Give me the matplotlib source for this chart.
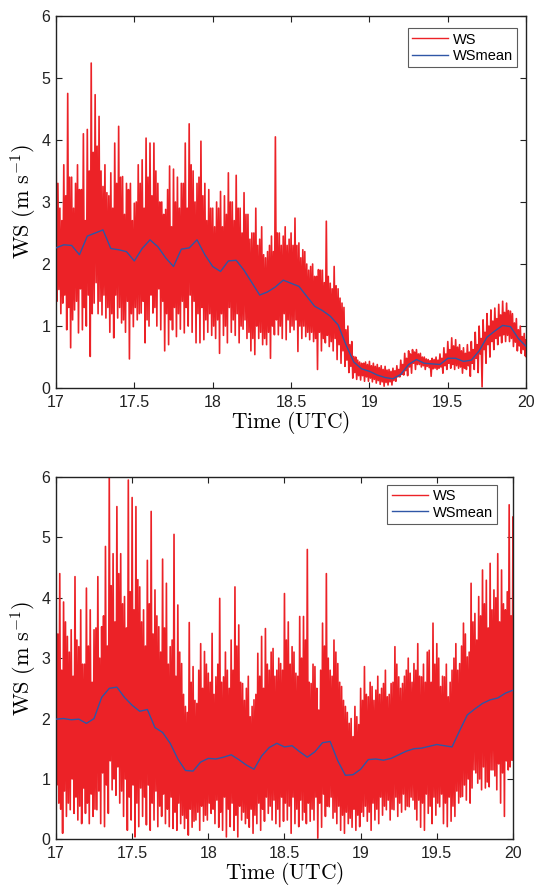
import numpy as np
import matplotlib
matplotlib.use("Agg")
import matplotlib.pyplot as plt

plt.rcParams['font.family'] = ['Liberation Sans', 'DejaVu Sans']
plt.rcParams['mathtext.fontset'] = 'cm'

# ---------------- data ----------------
x_ticks = [17, 17.5, 18, 18.5, 19, 19.5, 20]
x_tick_labels = ['17', '17.5', '18', '18.5', '19', '19.5', '20']
y_ticks = [0, 1, 2, 3, 4, 5, 6]

# top panel: WS main peaks / main troughs every 0.025 h (17..20)
top_ws_hi = [4.25, 2.9, 3.6, 4.75, 3.4, 3.3, 3.2, 4.1, 4.17, 5.24,
             4.73, 4.38, 3.25, 3.15, 3.47, 3.95, 4.22, 3.41, 3.3, 3.3,
             2.98, 3.6, 3.68, 4.03, 3.95, 3.95, 3.3, 3.0, 2.88, 3.58,
             3.53, 3.4, 3.3, 3.95, 4.26, 3.5, 3.3, 3.98, 3.3, 3.2,
             2.9, 3.0, 3.17, 3.1, 3.47, 3.0, 3.43, 2.9, 3.15, 2.8,
             2.5, 2.9, 2.4, 2.15, 2.2, 2.45, 4.05, 2.5, 2.45, 2.3,
             2.5, 2.74, 2.34, 2.23, 2.0, 1.96, 1.8, 1.91, 1.9, 2.69,
             1.69, 1.96, 1.6, 1.37, 0.94, 0.7, 0.51, 0.45, 0.40, 0.42,
             0.43, 0.40, 0.38, 0.36, 0.35, 0.30, 0.32, 0.36, 0.45, 0.56,
             0.60, 0.62, 0.62, 0.56, 0.50, 0.46, 0.48, 0.50, 0.55, 0.65,
             0.75, 0.81, 0.78, 0.70, 0.65, 0.70, 0.75, 0.90, 1.0, 1.1,
             1.2, 1.26, 1.29, 1.35, 1.4, 1.37, 1.24, 1.05, 0.94, 0.83,
             0.73]
top_ws_lo = [1.59, 1.37, 0.94, 0.65, 1.26, 0.89, 0.94, 1.0, 0.51, 1.37,
             1.2, 1.18, 1.13, 0.9, 0.81, 1.13, 1.05, 0.9, 0.47, 0.99,
             1.1, 1.21, 0.73, 1.0, 1.21, 1.0, 0.94, 0.6, 0.7, 0.94,
             0.83, 0.95, 0.89, 1.0, 0.9, 0.73, 0.73, 0.78, 0.9, 0.85,
             0.8, 0.56, 0.85, 0.73, 0.9, 0.85, 0.73, 0.95, 0.8, 0.6,
             0.54, 0.8, 0.7, 0.7, 0.48, 0.86, 0.86, 0.8, 0.78, 0.9,
             0.94, 0.59, 0.8, 0.83, 0.78, 0.75, 0.3, 0.6, 0.73, 0.67,
             0.6, 0.46, 0.4, 0.35, 0.25, 0.16, 0.14, 0.13, 0.11, 0.11,
             0.10, 0.08, 0.06, 0.03, 0.05, 0.05, 0.11, 0.18, 0.21, 0.20,
             0.24, 0.30, 0.38, 0.36, 0.35, 0.19, 0.32, 0.32, 0.24, 0.30,
             0.32, 0.30, 0.32, 0.24, 0.30, 0.19, 0.30, 0.25, 0.02, 0.40,
             0.50, 0.62, 0.70, 0.73, 0.75, 0.75, 0.67, 0.60, 0.56, 0.52,
             0.51]
# top panel: secondary peaks / troughs (edges of the dense band), every 0.025 h
top_ws_hi2 = [3.3, 2.7, 3.1, 3.4, 2.9, 3.6, 3.2, 2.7, 3.5, 3.8,
              3.9, 3.5, 3.6, 3.1, 2.9, 3.3, 3.4, 2.8, 3.2, 2.7,
              3.0, 3.3, 2.9, 3.4, 3.1, 3.5, 3.0, 2.8, 3.2, 2.6,
              3.0, 2.9, 3.3, 2.9, 3.6, 3.0, 3.4, 3.1, 2.7, 2.9,
              2.6, 2.9, 2.6, 2.8, 3.0, 2.7, 2.9, 2.5, 2.8, 2.4,
              2.5, 2.3, 2.6, 2.1, 2.3, 2.2, 2.5, 2.3, 2.6, 2.4,
              2.3, 2.3, 2.1, 2.2, 1.9, 2.0, 1.8, 1.9, 1.7, 1.8,
              1.6, 1.65, 1.45, 1.3, 1.0, 0.75, 0.5, 0.42, 0.4, 0.38,
              0.36, 0.35, 0.33, 0.3, 0.29, 0.27, 0.28, 0.3, 0.38, 0.48,
              0.55, 0.58, 0.55, 0.5, 0.47, 0.44, 0.46, 0.45, 0.48, 0.55,
              0.62, 0.68, 0.66, 0.6, 0.56, 0.58, 0.62, 0.7, 0.8, 0.9,
              1.0, 1.08, 1.12, 1.18, 1.22, 1.25, 1.2, 1.12, 1.0, 0.88,
              0.78]
top_ws_lo2 = [1.4, 1.2, 1.5, 1.3, 1.1, 1.4, 1.6, 1.3, 1.5, 1.2,
              1.7, 1.4, 1.5, 1.3, 1.2, 1.5, 1.3, 1.1, 1.4, 1.2,
              1.3, 1.2, 1.4, 1.1, 1.5, 1.3, 1.6, 1.4, 1.2, 1.1,
              1.3, 1.2, 1.4, 1.3, 1.5, 1.4, 1.2, 1.3, 1.1, 1.2,
              1.0, 1.1, 1.2, 1.0, 1.3, 1.1, 1.2, 1.0, 1.1, 0.9,
              0.8, 1.0, 0.9, 0.8, 0.9, 1.0, 1.1, 1.0, 1.2, 1.1,
              1.0, 1.1, 1.0, 1.0, 0.9, 0.9, 0.8, 0.9, 0.8, 0.85,
              0.75, 0.8, 0.7, 0.6, 0.45, 0.35, 0.25, 0.2, 0.2, 0.18,
              0.16, 0.14, 0.12, 0.1, 0.09, 0.1, 0.12, 0.18, 0.22, 0.28,
              0.34, 0.4, 0.38, 0.34, 0.3, 0.33, 0.31, 0.3, 0.34, 0.36,
              0.4, 0.38, 0.36, 0.34, 0.32, 0.36, 0.4, 0.48, 0.55, 0.62,
              0.7, 0.75, 0.8, 0.84, 0.86, 0.85, 0.8, 0.74, 0.68, 0.62,
              0.58]
# top panel: WSmean every 0.05 h
top_ws_mean = [2.26, 2.31, 2.30, 2.15, 2.45, 2.50, 2.55, 2.25, 2.23, 2.20,
               2.05, 2.25, 2.39, 2.28, 2.10, 1.96, 2.24, 2.26, 2.39, 2.15,
               1.96, 1.88, 2.05, 2.06, 1.90, 1.70, 1.50, 1.55, 1.63, 1.74,
               1.69, 1.64, 1.48, 1.32, 1.25, 1.16, 1.02, 0.70, 0.42, 0.31,
               0.27, 0.21, 0.17, 0.15, 0.22, 0.38, 0.46, 0.40, 0.39, 0.38,
               0.48, 0.48, 0.43, 0.45, 0.60, 0.82, 0.92, 1.01, 0.99, 0.80,
               0.67]

# bottom panel
bot_ws_hi = [4.46, 4.4, 3.93, 3.36, 3.47, 4.35, 3.19, 2.9, 4.16, 3.8,
             3.47, 4.35, 3.52, 4.85, 6.0, 4.73, 5.51, 4.73, 4.02, 5.95,
             5.66, 5.51, 4.18, 3.8, 4.62, 5.43, 4.13, 3.52, 4.64, 4.24,
             3.19, 5.05, 3.88, 2.91, 2.2, 3.59, 2.86, 2.25, 3.24, 3.11,
             2.75, 3.41, 2.69, 3.99, 2.69, 2.8, 3.3, 4.18, 3.55, 2.58,
             2.5, 2.03, 2.31, 3.08, 3.36, 3.49, 2.8, 3.16, 2.8, 2.91,
             4.07, 3.6, 3.19, 2.75, 3.69, 3.69, 4.8, 2.58, 2.86, 2.14,
             3.58, 4.4, 2.8, 3.3, 2.91, 2.53, 2.2, 1.92, 1.7, 2.03,
             2.5, 2.86, 2.36, 2.53, 2.47, 2.4, 2.58, 2.36, 2.58, 3.19,
             2.69, 2.58, 2.8, 2.75, 2.91, 3.24, 2.69, 2.6, 3.13, 3.58,
             3.24, 2.53, 2.69, 2.36, 2.8, 3.24, 2.91, 3.58, 3.02, 4.24,
             3.74, 4.02, 4.46, 4.29, 4.57, 4.13, 4.73, 4.46, 3.8, 5.54,
             5.34]
bot_ws_lo = [0.6, 0.1, 0.38, 0.49, 0.43, 0.32, 0.26, 0.43, 0.26, 0.38,
             0.49, 0.26, 0.21, 0.43, 0.82, 0.73, 0.6, 0.38, 0.15, 0.32,
             0.04, 0.21, 0.38, 0.24, 0.15, 0.32, 0.21, 0.38, 0.26, 0.21,
             0.18, 0.15, 0.26, 0.18, 0.07, 0.2, 0.32, 0.15, 0.3, 0.32,
             0.43, 0.26, 0.2, 0.15, 0.04, 0.21, 0.15, 0.04, 0.32, 0.26,
             0.2, 0.1, 0.26, 0.15, 0.3, 0.43, 0.32, 0.26, 0.21, 0.3,
             0.32, 0.1, 0.26, 0.21, 0.32, 0.26, 0.3, 0.32, 0.02, 0.2,
             0.38, 0.54, 0.35, 0.26, 0.15, 0.1, 0.26, 0.2, 0.15, 0.21,
             0.38, 0.3, 0.15, 0.32, 0.26, 0.4, 0.49, 0.32, 0.49, 0.38,
             0.45, 0.49, 0.54, 0.65, 0.32, 0.2, 0.15, 0.43, 0.26, 0.4,
             0.54, 0.26, 0.21, 0.3, 0.38, 0.6, 0.71, 0.65, 0.6, 1.15,
             0.93, 0.82, 0.85, 0.87, 1.15, 0.82, 0.6, 0.38, 1.15, 1.31,
             1.42]
bot_ws_hi2 = [3.4, 2.8, 3.6, 3.1, 2.7, 3.3, 3.8, 2.9, 3.2, 2.6,
              3.5, 3.0, 3.7, 3.2, 4.2, 3.6, 4.4, 3.9, 3.5, 4.1,
              3.8, 4.3, 3.6, 3.2, 3.9, 3.4, 3.7, 3.1, 3.5, 2.9,
              3.3, 2.7, 3.1, 2.4, 2.1, 2.6, 2.3, 2.8, 2.5, 2.9,
              2.6, 2.4, 2.9, 2.6, 3.1, 2.5, 2.8, 3.2, 2.6, 2.3,
              2.7, 2.2, 2.4, 2.7, 2.5, 2.9, 3.1, 2.7, 3.0, 2.8,
              3.3, 2.9, 3.1, 2.7, 3.0, 3.3, 2.6, 2.9, 2.5, 2.8,
              3.2, 3.0, 2.7, 3.1, 2.6, 2.3, 2.1, 2.0, 2.2, 1.9,
              2.3, 2.4, 2.6, 2.3, 2.7, 2.5, 2.8, 2.4, 2.6, 2.9,
              2.5, 2.7, 3.0, 2.6, 2.8, 2.7, 2.9, 3.1, 2.6, 2.9,
              3.0, 2.7, 2.9, 2.6, 3.0, 2.8, 3.2, 3.4, 3.1, 3.6,
              3.3, 3.7, 3.9, 3.5, 3.8, 4.0, 3.6, 3.9, 4.1, 3.7,
              4.2]
bot_ws_lo2 = [0.9, 0.5, 0.8, 0.6, 1.0, 0.7, 0.55, 0.85, 0.6, 0.75,
              0.5, 0.8, 1.1, 0.9, 1.3, 1.0, 1.2, 0.8, 1.0, 0.7,
              0.9, 0.6, 0.85, 0.7, 0.9, 0.6, 0.8, 0.55, 0.75, 0.5,
              0.7, 0.45, 0.6, 0.4, 0.35, 0.5, 0.3, 0.45, 0.55, 0.4,
              0.6, 0.5, 0.65, 0.45, 0.7, 0.5, 0.6, 0.4, 0.55, 0.45,
              0.35, 0.5, 0.4, 0.6, 0.5, 0.7, 0.55, 0.65, 0.5, 0.7,
              0.6, 0.55, 0.7, 0.5, 0.65, 0.45, 0.6, 0.5, 0.7, 0.6,
              0.75, 0.55, 0.7, 0.45, 0.55, 0.4, 0.45, 0.35, 0.5, 0.4,
              0.45, 0.55, 0.45, 0.6, 0.5, 0.7, 0.55, 0.65, 0.5, 0.7,
              0.6, 0.75, 0.55, 0.7, 0.5, 0.65, 0.6, 0.75, 0.55, 0.7,
              0.6, 0.75, 0.6, 0.7, 0.55, 0.8, 0.7, 0.9, 1.0, 0.85,
              1.1, 1.0, 1.2, 0.95, 1.15, 1.05, 1.25, 1.1, 1.3, 1.2,
              1.4]
bot_ws_mean = [1.99, 2.00, 1.98, 1.99, 1.92, 2.00, 2.35, 2.50, 2.52, 2.35,
               2.22, 2.12, 2.15, 1.85, 1.77, 1.59, 1.33, 1.14, 1.13, 1.28,
               1.34, 1.33, 1.36, 1.40, 1.32, 1.23, 1.16, 1.38, 1.52, 1.59,
               1.53, 1.55, 1.45, 1.36, 1.45, 1.60, 1.62, 1.30, 1.06, 1.07,
               1.16, 1.32, 1.33, 1.31, 1.34, 1.40, 1.46, 1.50, 1.51, 1.54,
               1.57, 1.55, 1.53, 1.80, 2.06, 2.16, 2.25, 2.31, 2.34, 2.42,
               2.47]

RED = '#EC2227'
BLUE = '#2F56A6'


def red_trace(hi, lo2, hi2, lo):
    """Interleave the four series in time: hi, lo2, hi2, lo within each step."""
    ts, vs = [], []
    for k, arr in enumerate([hi, lo2, hi2, lo]):
        n = len(arr)
        step = 3.0 / (n - 1)
        ts.append(np.clip(np.linspace(17, 20, n) + step * k / 4.0, 17, 20))
        vs.append(np.asarray(arr, dtype=float))
    t = np.concatenate(ts)
    v = np.concatenate(vs)
    key = np.concatenate([np.full(len(a), k) for k, a in enumerate(vs)])
    order = np.lexsort((key, t))
    return t[order], v[order]


fig = plt.figure(figsize=(5.38, 8.86), dpi=100)
ax1 = fig.add_axes([0.104, 0.562, 0.874, 0.420])
ax2 = fig.add_axes([0.104, 0.0527, 0.8495, 0.4089])

panels = [
    (ax1, top_ws_hi, top_ws_lo2, top_ws_hi2, top_ws_lo, top_ws_mean, (0.981, 0.967)),
    (ax2, bot_ws_hi, bot_ws_lo2, bot_ws_hi2, bot_ws_lo, bot_ws_mean, (0.965, 0.978)),
]

for ax, hi, lo2, hi2, lo, mean, leg_anchor in panels:
    t, v = red_trace(hi, lo2, hi2, lo)
    ax.plot(t, v, color=RED, lw=1.2, label='WS', zorder=2)
    tm = np.linspace(17, 20, len(mean))
    ax.plot(tm, mean, color=BLUE, lw=1.0, label='WSmean', zorder=3)
    ax.set_xlim(17, 20)
    ax.set_ylim(0, 6)
    ax.set_xticks(x_ticks)
    ax.set_xticklabels(x_tick_labels)
    ax.set_yticks(y_ticks)
    ax.tick_params(direction='in', top=True, right=True, length=4,
                   width=0.8, labelsize=11.5, colors='#222222')
    ax.tick_params(axis='x', pad=5)
    ax.tick_params(axis='y', pad=4)
    for s in ax.spines.values():
        s.set_linewidth(1.0)
        s.set_color('#222222')
    ax.set_xlabel(r'$\mathrm{Time\ (UTC)}$', fontsize=15.5, labelpad=-1)
    ax.set_ylabel(r'$\mathrm{WS\ (m\ s^{-1})}$', fontsize=16, labelpad=2)
    leg = ax.legend(loc='upper right', bbox_to_anchor=leg_anchor,
                    fontsize=10.5, frameon=True, fancybox=False,
                    handlelength=2.5, handletextpad=0.3, borderpad=0.3,
                    labelspacing=0.15, borderaxespad=0.0)
    leg.get_frame().set_edgecolor('#333333')
    leg.get_frame().set_linewidth(0.8)
    for line in leg.get_lines():
        line.set_linewidth(1.0)

fig.savefig('out.png', dpi=100)
